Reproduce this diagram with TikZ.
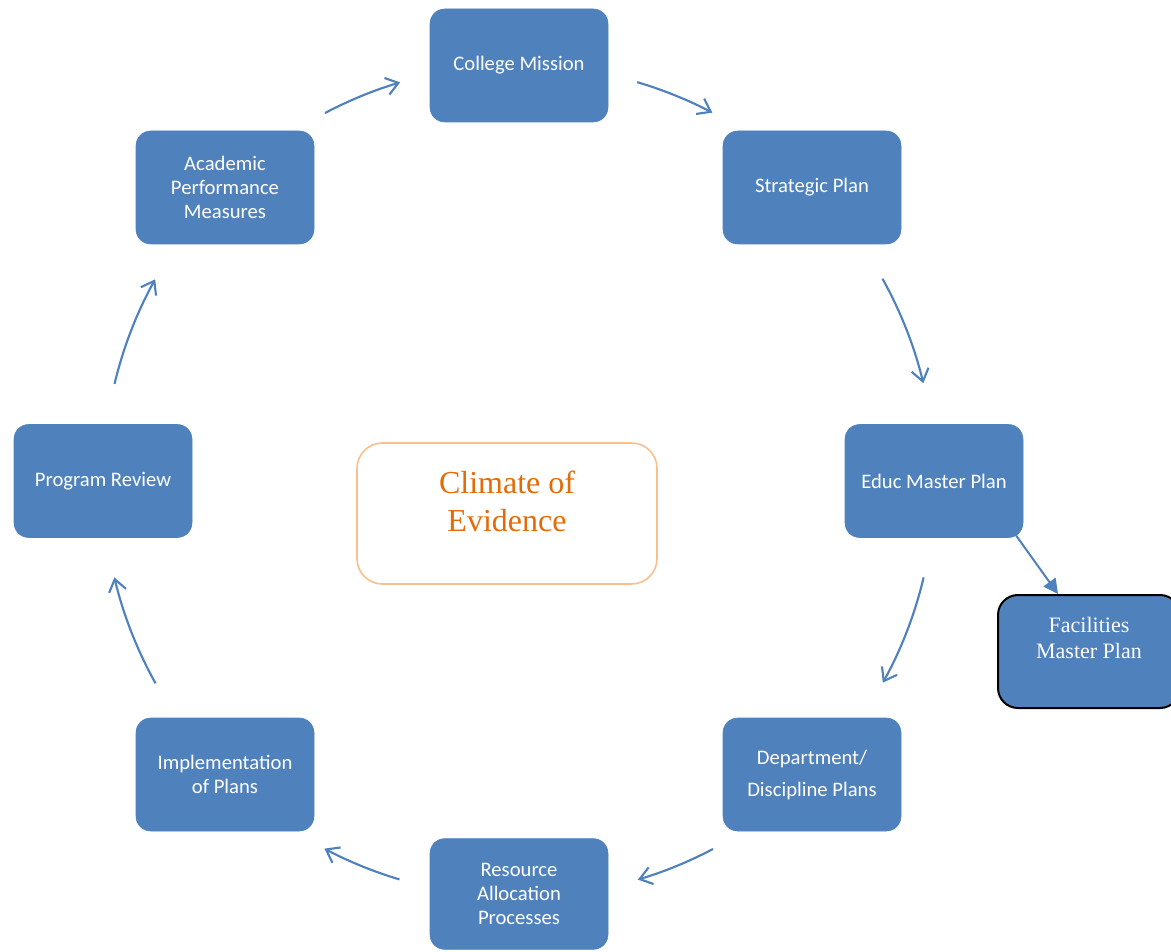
\documentclass[tikz,border=0pt]{standalone}
\usepackage{fontspec}
\setmainfont{Carlito}
\newfontfamily\serifcam{Liberation Serif}
\usetikzlibrary{arrows.meta}
\definecolor{boxblue}{HTML}{4F81BD}
\definecolor{evorange}{HTML}{E36C09}
\definecolor{evborder}{HTML}{FABF8F}
\tikzset{
  stagebox/.style={draw=boxblue, fill=boxblue, rounded corners=11pt, minimum width=133.5pt,
    minimum height=84.75pt, inner sep=2pt, align=center, text=white,
    font=\fontsize{15.5}{18}\selectfont},
  cyc/.style={draw=boxblue, line width=1.6pt, -{Straight Barb[length=9pt,width=13pt]}},
  facarrow/.style={draw=boxblue, line width=1.5pt, -{Triangle[length=11pt,width=11pt]}},
}
\begin{document}
\begin{tikzpicture}[x=0.75pt, y=0.75pt]
\useasboundingbox (0,0) rectangle (1171,951);
% stage boxes
\node[stagebox] (mission) at (519,885.5) {College Mission};
\node[stagebox] (strategic) at (812,763.5) {Strategic Plan};
\node[stagebox] (educ) at (934,470) {Educ Master Plan};
\node[stagebox] (dept) at (812,176.5) {Department/\\[6pt]Discipline Plans};
\node[stagebox, minimum height=83pt] (resource) at (519,57) {Resource\\Allocation\\Processes};
\node[stagebox] (impl) at (225,176.5) {Implementation\\of Plans};
\node[stagebox] (review) at (103,470) {Program Review};
\node[stagebox] (academic) at (225,763.5) {Academic\\Performance\\Measures};
% facilities
\node[draw=black, line width=1.5pt, fill=boxblue, rounded corners=15pt, minimum width=136.5pt,
  minimum height=84.75pt, inner sep=0pt] (fac) at (1089,299.5) {};
\node[text=white, align=center, font=\serifcam\fontsize{16.5}{19.5}\selectfont] (factext)
  at (1089,313.5) {Facilities\\Master Plan};
% climate of evidence
\node[draw=evborder, line width=1.2pt, fill=white, rounded corners=19pt, minimum width=225pt,
  minimum height=105.75pt, inner sep=0pt] (climate) at (507,437.5) {};
\node[text=evorange, align=center, font=\serifcam\fontsize{24}{28.5}\selectfont] (climatetext)
  at (507,449.5) {Climate of\\Evidence};
% cycle arrows
\coordinate (ctr) at (519,470);
\draw[cyc] (ctr) ++(117.8:416) arc[start angle=117.8, end angle=106.6, radius=416];
\draw[cyc] (ctr) ++(73.5:416) arc[start angle=73.5, end angle=62.3, radius=416];
\draw[cyc] (ctr) ++(29.1:416) arc[start angle=29.1, end angle=13.6, radius=416];
\draw[cyc] (ctr) ++(-13.4:416) arc[start angle=-13.4, end angle=-29.0, radius=416];
\draw[cyc] (ctr) ++(-62.2:416) arc[start angle=-62.2, end angle=-73.4, radius=416];
\draw[cyc] (ctr) ++(-106.7:416) arc[start angle=-106.7, end angle=-117.9, radius=416];
\draw[cyc] (ctr) ++(209.1:416) arc[start angle=209.1, end angle=193.4, radius=416];
\draw[cyc] (ctr) ++(166.5:416) arc[start angle=166.5, end angle=151.0, radius=416];
% educ -> facilities
\coordinate (facstart) at (1015,417);
\coordinate (facend) at (1058,357);
\draw[facarrow] (facstart) -- (facend);
\end{tikzpicture}
\end{document}
